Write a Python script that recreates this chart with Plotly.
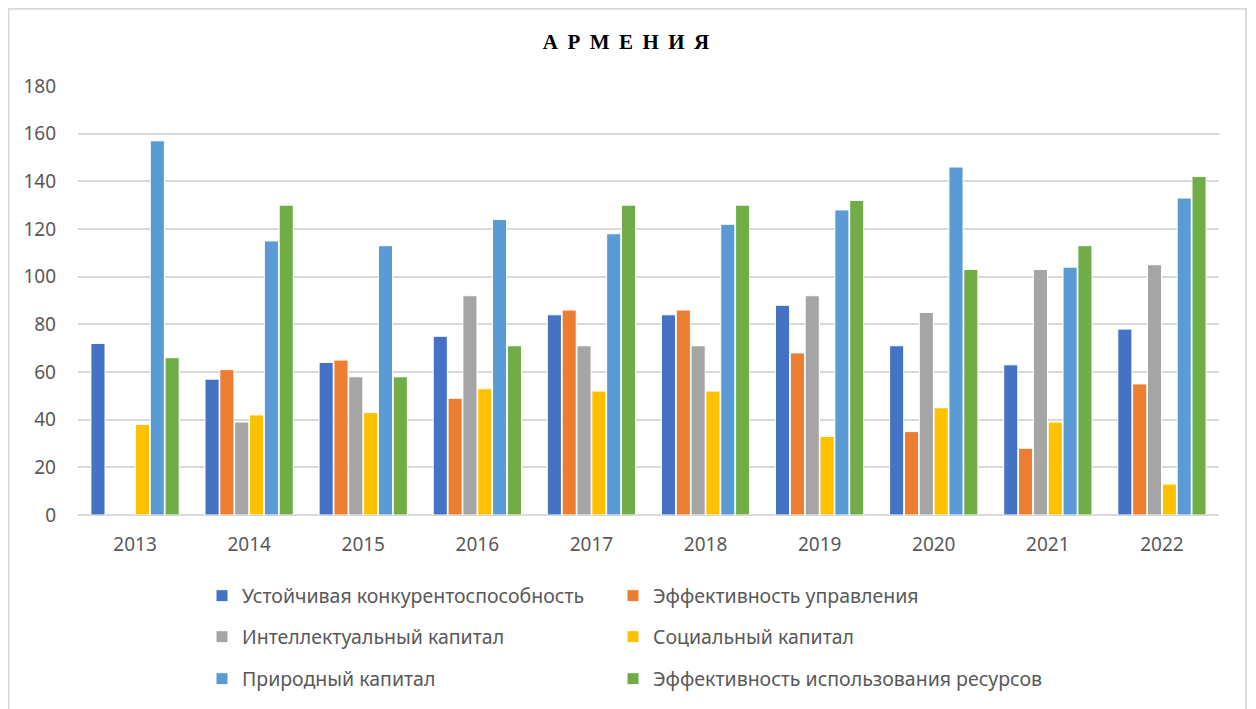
import plotly.graph_objects as go

years = ["2013", "2014", "2015", "2016", "2017", "2018", "2019", "2020", "2021", "2022"]

sustainable = [72, 57, 64, 75, 84, 84, 88, 71, 63, 78]
governance = [None, 61, 65, 49, 86, 86, 68, 35, 28, 55]
intellectual = [None, 39, 58, 92, 71, 71, 92, 85, 103, 105]
social = [38, 42, 43, 53, 52, 52, 33, 45, 39, 13]
natural = [157, 115, 113, 124, 118, 122, 128, 146, 104, 133]
resources = [66, 130, 58, 71, 130, 130, 132, 103, 113, 142]

series = [
    ("Устойчивая конкурентоспособность", sustainable, "#4472C4"),
    ("Эффективность управления", governance, "#ED7D31"),
    ("Интеллектуальный капитал", intellectual, "#A5A5A5"),
    ("Социальный капитал", social, "#FFC000"),
    ("Природный капитал", natural, "#5B9BD5"),
    ("Эффективность использования ресурсов", resources, "#70AD47"),
]

# one legend per item so the two-column grid can be placed exactly
legend_ids = ["legend", "legend2", "legend3", "legend4", "legend5", "legend6"]

fig = go.Figure()
for (name, vals, color), leg in zip(series, legend_ids):
    fig.add_trace(
        go.Bar(
            x=years,
            y=vals,
            name=name,
            marker=dict(color=color, line=dict(color="white", width=1)),
            legend=leg,
            showlegend=True,
        )
    )

# page body has an 8px margin, so the figure is 8px smaller than the window
W, H = 1248, 701
L, R, T, B = 70, 37, 78, 193
plot_w = W - L - R
plot_h = H - T - B


def py(y_px):
    return (H - B - y_px) / plot_h


def px(x_px):
    return (x_px - L) / plot_w


font_main = "Noto Sans"
tick_color = "#595959"

legend_base = dict(
    orientation="h",
    xanchor="left",
    yanchor="middle",
    font=dict(family=font_main, size=19.5, color=tick_color),
    itemwidth=30,
    bgcolor="rgba(0,0,0,0)",
)

col_x = [px(194), px(605)]
row_y = [py(588), py(629), py(671)]
legends = {}
for i, leg in enumerate(legend_ids):
    legends[leg] = dict(legend_base, x=col_x[i % 2], y=row_y[i // 2])

title_text = "\u2009 ".join("АРМЕНИЯ")

fig.update_layout(
    width=W,
    height=H,
    margin=dict(l=L, r=R, t=T, b=B),
    paper_bgcolor="white",
    plot_bgcolor="white",
    barmode="group",
    bargap=0.22,
    bargroupgap=0.05,
    title=dict(
        text="<b>" + title_text + "</b>",
        x=618 / W,
        xanchor="center",
        y=1 - 34 / H,
        yanchor="middle",
        font=dict(family="Liberation Serif", size=21, color="black"),
    ),
    xaxis=dict(
        tickfont=dict(family=font_main, size=19, color=tick_color),
        showgrid=False,
        showline=False,
        ticks="",
        ticklabelstandoff=16,
    ),
    yaxis=dict(
        range=[0, 180],
        dtick=20,
        tickfont=dict(family=font_main, size=19, color=tick_color),
        gridcolor="#D9D9D9",
        gridwidth=1.5,
        zeroline=True,
        zerolinecolor="#D9D9D9",
        zerolinewidth=1.5,
        ticks="",
        ticklabelstandoff=21,
    ),
    shapes=[
        dict(
            type="rect",
            xref="paper",
            yref="paper",
            x0=px(0.5),
            x1=px(1238),
            y0=py(720),
            y1=py(0.5),
            line=dict(color="#D9D9D9", width=2),
            layer="below",
        )
    ],
    **legends,
)

fig.write_html("out.html")
